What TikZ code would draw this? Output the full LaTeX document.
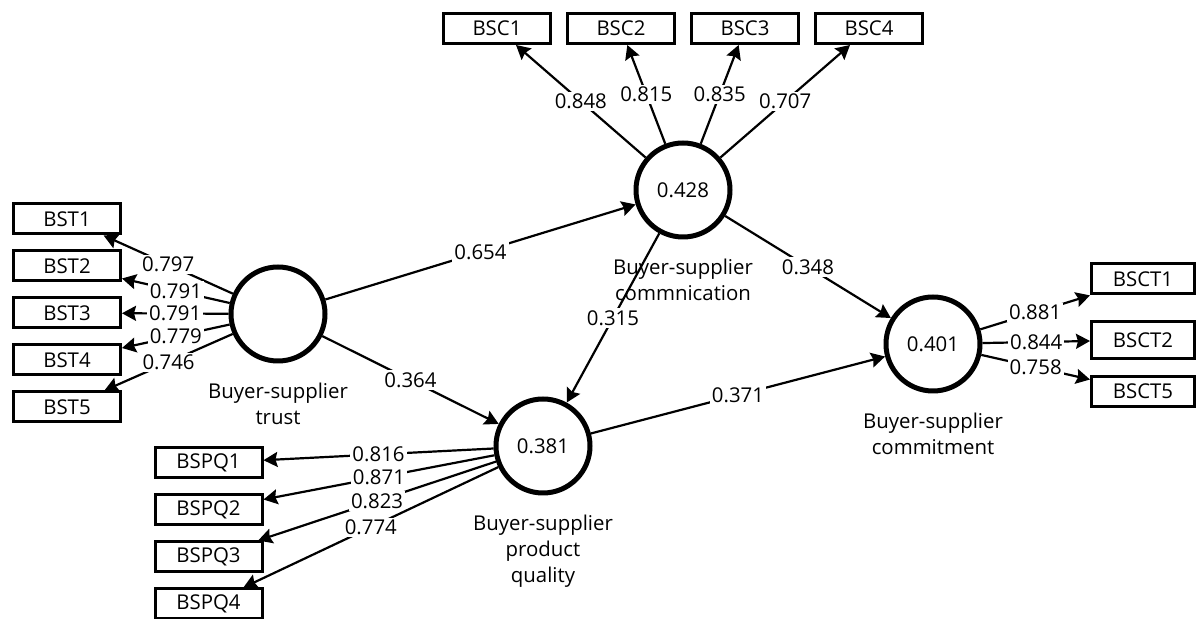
\documentclass[tikz,border=0pt]{standalone}
\usepackage{fontspec}
\setmainfont{Open Sans}
\usetikzlibrary{arrows.meta, positioning}

\begin{document}
\begin{tikzpicture}[
    x=0.5pt, y=-0.5pt,
    font=\fontsize{10.2}{13}\selectfont,
    node distance=7pt and 7pt,
    ind/.style={rectangle, draw=black, line width=1.5pt, minimum width=53.5pt, minimum height=15pt, inner sep=0pt},
    lat/.style={circle, draw=black, line width=2.5pt, minimum size=47pt, inner sep=0pt},
    latcap/.style={align=center, inner sep=1pt},
    arrow/.style={-{Stealth[length=7pt, width=7.5pt, inset=1pt]}, line width=1.1pt},
    coef/.style={fill=white, inner sep=1pt}
  ]
    \useasboundingbox (0,0) rectangle (1196,619);
    % latent variables
    \node[lat] (trust) at (278,314) {};
    \node[lat] (comm) at (683,190) {0.428};
    \node[lat] (quality) at (543,446) {0.381};
    \node[lat] (commit) at (933,344) {0.401};
    \node[latcap, below=8.5pt of trust] (trustcap) {Buyer-supplier\\trust};
    \node[latcap, below=8.5pt of comm] (commcap) {Buyer-supplier\\commnication};
    \node[latcap, below=8.5pt of quality] (qualitycap) {Buyer-supplier\\product\\quality};
    \node[latcap, below=8.5pt of commit] (commitcap) {Buyer-supplier\\commitment};
    % indicators
    \node[ind] (bst1) at (67,219) {BST1};
    \node[ind, below=of bst1] (bst2) {BST2};
    \node[ind, below=of bst2] (bst3) {BST3};
    \node[ind, below=of bst3] (bst4) {BST4};
    \node[ind, below=of bst4] (bst5) {BST5};
    \node[ind] (bsc1) at (497,28.5) {BSC1};
    \node[ind, right=of bsc1] (bsc2) {BSC2};
    \node[ind, right=of bsc2] (bsc3) {BSC3};
    \node[ind, right=of bsc3] (bsc4) {BSC4};
    \node[ind] (bspq1) at (208.5,463) {BSPQ1};
    \node[ind, below=of bspq1] (bspq2) {BSPQ2};
    \node[ind, below=of bspq2] (bspq3) {BSPQ3};
    \node[ind, below=of bspq3] (bspq4) {BSPQ4};
    \node[ind, minimum width=51.5pt] (bsct1) at (1143,279) {BSCT1};
    \node[ind, minimum width=51.5pt, minimum height=18.5pt] (bsct2) at (1143,340) {BSCT2};
    \node[ind, minimum width=51.5pt] (bsct5) at (1143,391.5) {BSCT5};
    % outer loadings
    \draw[arrow] (trust) -- node[coef] {0.797} (bst1);
    \draw[arrow] (trust) -- node[coef] {0.791} (bst2);
    \draw[arrow] (trust) -- node[coef] {0.791} (bst3);
    \draw[arrow] (trust) -- node[coef] {0.779} (bst4);
    \draw[arrow] (trust) -- node[coef] {0.746} (bst5);
    \draw[arrow] (comm) -- node[coef] {0.848} (bsc1);
    \draw[arrow] (comm) -- node[coef] {0.815} (bsc2);
    \draw[arrow] (comm) -- node[coef] {0.835} (bsc3);
    \draw[arrow] (comm) -- node[coef] {0.707} (bsc4);
    \draw[arrow] (quality) -- node[coef] {0.816} (bspq1);
    \draw[arrow] (quality) -- node[coef] {0.871} (bspq2);
    \draw[arrow] (quality) -- node[coef] {0.823} (bspq3);
    \draw[arrow] (quality) -- node[coef] {0.774} (bspq4);
    \draw[arrow] (commit) -- node[coef] {0.881} (bsct1);
    \draw[arrow] (commit) -- node[coef] {0.844} (bsct2);
    \draw[arrow] (commit) -- node[coef] {0.758} (bsct5);
    % path coefficients
    \draw[arrow] (trust) -- node[coef] {0.654} (comm);
    \draw[arrow] (trust) -- node[coef] {0.364} (quality);
    \draw[arrow] (comm) -- node[coef] {0.315} (quality);
    \draw[arrow] (comm) -- node[coef] {0.348} (commit);
    \draw[arrow] (quality) -- node[coef] {0.371} (commit);
\end{tikzpicture}
\end{document}
